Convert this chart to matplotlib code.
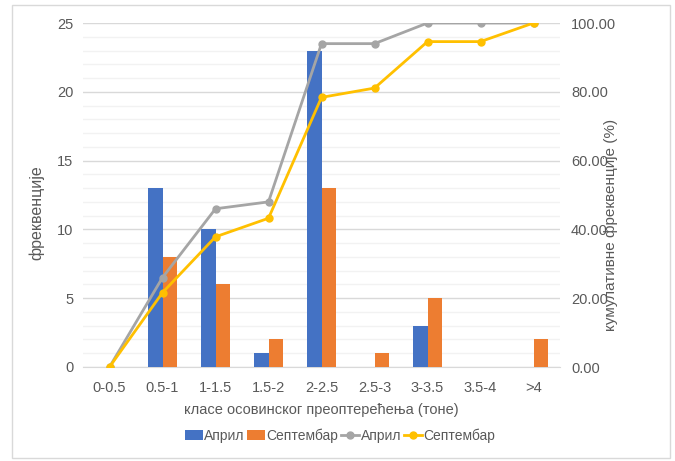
import numpy as np
import matplotlib.pyplot as plt
from matplotlib.patches import Rectangle
from matplotlib.ticker import MultipleLocator, FormatStrFormatter

plt.rcParams['font.family'] = ['Liberation Sans', 'DejaVu Sans']

classes = ['0-0.5', '0.5-1', '1-1.5', '1.5-2', '2-2.5', '2.5-3', '3-3.5', '3.5-4', '>4']
april = [0, 13, 10, 1, 23, 0, 3, 0, 0]
september = [0, 8, 6, 2, 13, 1, 5, 0, 2]
april_cum = [0.00, 26.00, 46.00, 48.00, 94.00, 94.00, 100.00, 100.00, 100.00]
september_cum = [0.00, 21.62, 37.84, 43.24, 78.38, 81.08, 94.59, 94.59, 100.00]

blue = '#4472C4'
orange = '#ED7D31'
grey = '#A5A5A5'
gold = '#FFC000'
txt = '#595959'

fig = plt.figure(figsize=(6.75, 4.61), dpi=100)
ax = fig.add_axes([83 / 675, 1 - 367 / 461, 477 / 675, 344 / 461])
ax2 = ax.twinx()

x = np.arange(len(classes))
w = 0.27
ax.bar(x - w / 2, april, w, color=blue, label='Април', zorder=3)
ax.bar(x + w / 2, september, w, color=orange, label='Септембар', zorder=3)

ax2.plot(x, april_cum, color=grey, lw=2, marker='o', ms=5, label='Април', zorder=4)
ax2.plot(x, september_cum, color=gold, lw=2, marker='o', ms=5, label='Септембар', zorder=5)

ax.set_xlim(-0.5, len(classes) - 0.5)
ax.set_ylim(0, 25)
ax2.set_ylim(0, 100)
ax.yaxis.set_major_locator(MultipleLocator(5))
ax.yaxis.set_minor_locator(MultipleLocator(1))
ax2.yaxis.set_major_locator(MultipleLocator(20))
ax2.yaxis.set_major_formatter(FormatStrFormatter('%.2f'))

ax.grid(axis='y', which='major', color='#D9D9D9', lw=1, zorder=0)
ax.grid(axis='y', which='minor', color='#F2F2F2', lw=1, zorder=0)
ax.set_axisbelow(True)

for a in (ax, ax2):
    for s in a.spines.values():
        s.set_visible(False)
    a.tick_params(which='both', length=0, labelsize=10.5, colors=txt)
ax.spines['bottom'].set_visible(True)
ax.spines['bottom'].set_color('#D9D9D9')
ax.set_xticks(x)
ax.set_xticklabels(classes)
ax.tick_params(axis='x', pad=10)
ax.tick_params(axis='y', pad=7)
ax2.tick_params(axis='y', pad=8)

ax.set_xlabel('класе осовинског преоптерећења (тоне)', fontsize=10.5, color=txt, labelpad=6)
ax.set_ylabel('фреквенције', fontsize=11.5, color=txt)
ax.yaxis.set_label_coords(-0.080, 0.448)
ax2.set_ylabel('кумулативне фреквенције (%)', fontsize=11, color=txt)
ax2.yaxis.set_label_coords(1.092, 0.413)

h1, l1 = ax.get_legend_handles_labels()
h2, l2 = ax2.get_legend_handles_labels()
fig.legend(h1 + h2, l1 + l2, loc='center', bbox_to_anchor=(340 / 675, 1 - 436 / 461),
           ncol=4, frameon=False, fontsize=10, handlelength=1.3, handletextpad=0.1,
           columnspacing=0.2, labelcolor=txt)

fig.patches.append(Rectangle((12 / 675, 3 / 461), 658 / 675, 453 / 461, transform=fig.transFigure,
                             fill=False, edgecolor='#D9D9D9', lw=1))

fig.savefig('out.png', dpi=100)
